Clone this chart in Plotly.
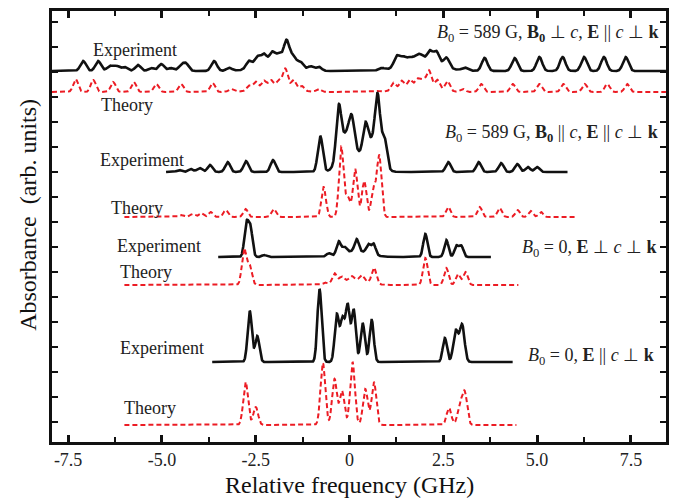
import numpy as np
import plotly.graph_objects as go

# ---------------- data ----------------
# Each spectrum: vertical offset, frequency extent, and its resolved peaks
# (centre in GHz, height in arb. units, width sigma in GHz).

# 1) B0 = 589 G, B0 ⊥ c  -- Experiment
e1_base = 351
e1_range = [-7.93, 8.435]
e1_centers = [-7.10, -6.70, -6.39, -6.21, -6.00, -5.64, -5.29, -5.02, -4.76, -4.49, -4.36, -3.61, -3.21,
              -2.68, -2.46, -2.28, -2.06, -1.88, -1.68, -1.50, -1.31, -1.04, -0.82,
              0.86, 1.26, 1.43, 1.61, 1.79, 1.92, 2.14, 2.32, 2.58, 3.07, 3.60, 4.40, 5.06, 5.68, 6.25, 6.78, 7.36,
              -2.00, 1.90]
e1_heights = [10, 10, 5, 5, 4, 6, 3, 7, 3, 5, 7, 10, 3,
              8, 10, 11, 12, 10, 25, 11, 7, 4, 4,
              2, 11, 8, 6, 6, 6, 12, 13, 10, 3, 13, 13, 14, 14, 14, 14, 14,
              7, 9]
e1_widths = [0.075] * 40 + [0.45, 0.5]

# 1) Theory
t1_base = 330
t1_range = [-7.93, 8.435]
t1_centers = [-7.30, -6.83, -6.30, -5.75, -5.15, -4.49, -3.65, -3.16,
              -2.68, -2.50, -2.28, -2.09, -1.88, -1.71, -1.49, -1.27, -0.82,
              0.72, 1.17, 1.39, 1.61, 1.81, 1.96, 2.12, 2.34, 2.61, 3.02, 3.51, 4.35, 5.06, 5.70, 6.27, 6.87, 7.40,
              -2.00, 1.85]
t1_heights = [13, 12, 10, 10, 8, 8, 9, 3,
              5, 8, 8, 8, 8, 20, 10, 5, 3,
              1, 8, 9, 9, 9, 8, 18, 10, 10, 3, 8, 8, 8, 8, 8, 8, 8,
              4, 4]
t1_widths = [0.065] * 34 + [0.45, 0.45]

# 2) B0 = 589 G, B0 || c  -- Experiment
e2_base = 250
e2_range = [-4.89, 5.81]
e2_centers = [-4.54, -4.23, -4.00, -3.72, -3.25, -2.76, -2.04, -0.78, -0.29, 0.06, 0.42, 0.75, 0.93,
              2.63, 3.44, 4.04, 4.47, 4.75, 5.00, -0.05, 0.60]
e2_heights = [2, 3, 4, 7, 10, 11, 12, 36, 48, 22, 26, 54, 27, 10, 10, 9, 8, 5, 5, 40, 32]
e2_widths = [0.065] * 19 + [0.2, 0.2]

# 2) Theory
t2_base = 205
t2_range = [-6.0, 6.02]
t2_centers = [-4.49, -4.19, -3.96, -3.70, -3.30, -2.77, -2.02, -0.69, -0.22, -0.05, 0.15, 0.39, 0.64, 0.79,
              2.63, 3.47, 4.00, 4.48, 4.83, 5.10]
t2_heights = [2, 3, 4, 5, 7, 8, 8, 30, 70, 20, 48, 36, 28, 61, 10, 10, 9, 7, 6, 5]
t2_widths = [0.06] * 20

# 3) B0 = 0, E ⊥ c ⊥ k  -- Experiment
e3_base = 165
e3_range = [-3.5, 3.77]
e3_centers = [-2.75, -2.64, -2.28, -0.56, -0.29, -0.14, 0.19, 0.50, 0.64, 2.02, 2.58, 2.85, 2.98, 0.15]
e3_heights = [32, 28, 2, 3, 13, 6, 12, 9, 11, 23, 17, 11, 11, 6]
e3_widths = [0.055] * 13 + [0.35]

# 3) Theory
t3_base = 137
t3_range = [-6.0, 4.5]
t3_centers = [-2.81, -2.66, -0.66, -0.40, -0.21, 0.06, 0.33, 0.65, 2.02, 2.58, 2.89, 3.09, 0.10]
t3_heights = [36, 19, 2, 10, 5, 4, 6, 16, 27, 17, 11, 13, 5]
t3_widths = [0.06] * 12 + [0.35]

# 4) B0 = 0, E || c ⊥ k  -- Experiment
e4_base = 60
e4_range = [-3.66, 4.35]
e4_centers = [-2.66, -2.46, -0.80, -0.34, -0.19, -0.05, 0.11, 0.35, 0.59, 2.54, 2.83, 3.00]
e4_heights = [51, 26, 73, 47, 42, 56, 52, 39, 42, 24, 31, 37]
e4_widths = [0.056] * 10 + [0.065, 0.065]

# 4) Theory
t4_base = -3
t4_range = [-6.0, 4.45]
t4_centers = [-2.77, -2.50, -0.71, -0.40, -0.20, 0.08, 0.42, 0.65, 2.65, 2.94, 3.07]
t4_heights = [43, 18, 62, 46, 34, 63, 36, 43, 17, 19, 32]
t4_widths = [0.063] * 11

# text labels
curve_labels = ["Experiment", "Theory", "Experiment", "Theory", "Experiment", "Theory", "Experiment", "Theory"]
curve_label_x = [-5.73, -5.92, -5.52, -5.66, -5.07, -5.42, -4.99, -5.31]
curve_label_y = [372, 317, 262, 214, 176, 150, 74, 14]

cond_labels = [
    "<i>B</i><sub>0</sub> = 589 G, <b>B<sub>0</sub></b> \u22a5 <i>c</i>, <b>E</b> || <i>c</i> \u22a5 <b>k</b>",
    "<i>B</i><sub>0</sub> = 589 G, <b>B<sub>0</sub></b> || <i>c</i>, <b>E</b> || <i>c</i> \u22a5 <b>k</b>",
    "<i>B</i><sub>0</sub> = 0, <b>E</b> \u22a5 <i>c</i> \u22a5 <b>k</b>",
    "<i>B</i><sub>0</sub> = 0, <b>E</b> || <i>c</i> \u22a5 <b>k</b>",
]
cond_label_x = [8.30, 8.28, 8.22, 8.17]
cond_label_y = [389, 289, 174, 66]

x_tick_vals = [-7.5, -5.0, -2.5, 0.0, 2.5, 5.0, 7.5]
x_tick_text = ["-7.5", "-5.0", "-2.5", "0", "2.5", "5.0", "7.5"]

# ---------------- building the curves ----------------
def spectrum(rng, base, centers, heights, widths):
    x = np.arange(rng[0], rng[1] + 1e-9, 0.004)
    y = np.full_like(x, float(base))
    for c, h, w in zip(centers, heights, widths):
        y += h * np.exp(-0.5 * ((x - c) / w) ** 2)
    return x, y

BLACK = "#111111"
RED = "#ec1c24"
FONT = "Liberation Serif"

fig = go.Figure()
specs = [
    (e1_range, e1_base, e1_centers, e1_heights, e1_widths, "exp"),
    (t1_range, t1_base, t1_centers, t1_heights, t1_widths, "th"),
    (e2_range, e2_base, e2_centers, e2_heights, e2_widths, "exp"),
    (t2_range, t2_base, t2_centers, t2_heights, t2_widths, "th"),
    (e3_range, e3_base, e3_centers, e3_heights, e3_widths, "exp"),
    (t3_range, t3_base, t3_centers, t3_heights, t3_widths, "th"),
    (e4_range, e4_base, e4_centers, e4_heights, e4_widths, "exp"),
    (t4_range, t4_base, t4_centers, t4_heights, t4_widths, "th"),
]
for rng, base, c, h, w, kind in specs:
    x, y = spectrum(rng, base, c, h, w)
    if kind == "exp":
        line = dict(color=BLACK, width=2.6)
    else:
        line = dict(color=RED, width=2, dash="5px,3px")
    fig.add_trace(go.Scatter(x=x, y=y, mode="lines", line=line, showlegend=False, hoverinfo="skip"))

for t, x, y in zip(curve_labels, curve_label_x, curve_label_y):
    fig.add_annotation(x=x, y=y, xref="x", yref="y", text=t, showarrow=False,
                       font=dict(family=FONT, size=18, color="#222"), xanchor="center", yanchor="middle")

for t, x, y in zip(cond_labels, cond_label_x, cond_label_y):
    fig.add_annotation(x=x, y=y, xref="x", yref="y", text=t, showarrow=False,
                       font=dict(family=FONT, size=18, color="#222"), xanchor="right", yanchor="middle")

# axis titles
fig.add_annotation(x=0, y=-0.1, xref="x", yref="paper", text="Relative frequency (GHz)", showarrow=False,
                   font=dict(family=FONT, size=24, color="#111"), xanchor="center", yanchor="middle")
fig.add_annotation(x=0, y=0.527, xref="paper", yref="paper", text="Absorbance\u00a0\u00a0(arb. units)",
                   showarrow=False, textangle=-90, xshift=-24,
                   font=dict(family=FONT, size=24, color="#111"), xanchor="center", yanchor="middle")

fig.update_xaxes(range=[-7.93, 8.435], tickmode="array", tickvals=x_tick_vals, ticktext=x_tick_text,
                 ticks="inside", ticklen=7, tickwidth=2.5, tickcolor="#111",
                 minor=dict(tickvals=[-6.25, -3.75, -1.25, 1.25, 3.75, 6.25], ticks="inside", ticklen=5,
                            tickwidth=2, tickcolor="#111"),
                 showline=True, linewidth=2.6, linecolor="#111", mirror="allticks",
                 showgrid=False, zeroline=False,
                 tickfont=dict(family=FONT, size=18, color="#222"))
fig.update_yaxes(range=[-20, 411], tickmode="linear", tick0=0, dtick=25,
                 ticks="inside", ticklen=6, tickwidth=2, tickcolor="#111",
                 showticklabels=False,
                 showline=True, linewidth=2.6, linecolor="#111", mirror="allticks",
                 showgrid=False, zeroline=False)

fig.update_layout(width=677, height=498, margin=dict(l=52, r=8, t=11, b=56),
                  plot_bgcolor="white", paper_bgcolor="white")

fig.write_html("out.html")
